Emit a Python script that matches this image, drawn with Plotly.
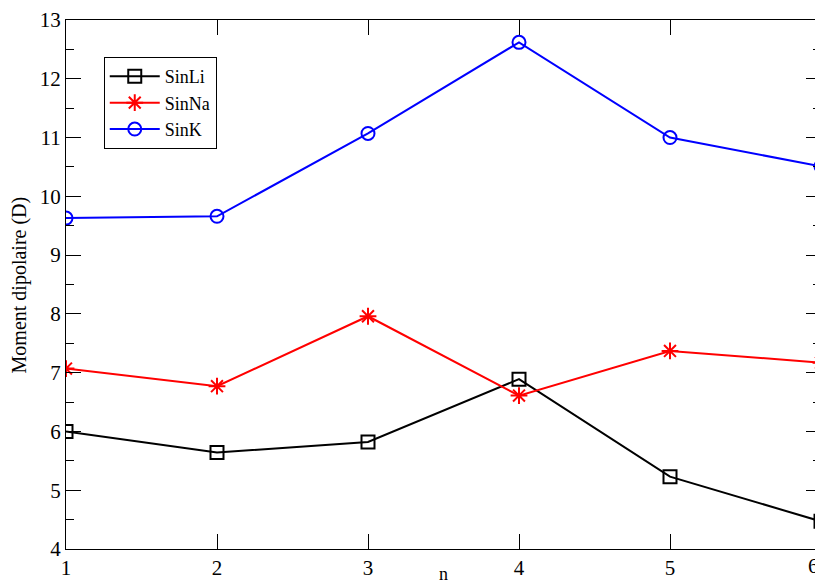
import plotly.graph_objects as go

n_values = [1, 2, 3, 4, 5, 6]
x_tick_labels = ["1", "2", "3", "4", "5", "6"]
sinli = [6.00, 5.64, 5.82, 6.89, 5.23, 4.47]
sinna = [7.07, 6.77, 7.96, 6.61, 7.37, 7.17]
sink = [9.63, 9.66, 11.07, 12.62, 11.00, 10.51]

FONT = "Liberation Serif"

fig = go.Figure()
fig.add_trace(go.Scatter(x=n_values, y=sinli, name="SinLi", mode="lines+markers",
                         line=dict(color="black", width=2),
                         marker=dict(symbol="square-open", size=13, color="black",
                                     line=dict(width=2, color="black"))))
fig.add_trace(go.Scatter(x=n_values, y=sinna, name="SinNa", mode="lines+markers",
                         line=dict(color="red", width=2),
                         marker=dict(symbol="asterisk-open", size=14, color="red",
                                     line=dict(width=2, color="red"))))
fig.add_trace(go.Scatter(x=n_values, y=sink, name="SinK", mode="lines+markers",
                         line=dict(color="blue", width=2),
                         marker=dict(symbol="circle-open", size=13, color="blue",
                                     line=dict(width=2, color="blue"))))

# last tick label drawn as an annotation so it stays inside the picture
shown_ticktext = x_tick_labels[:-1] + [""]

fig.update_layout(
    width=823, height=587,
    margin=dict(l=58, r=10, t=12, b=46, autoexpand=False),
    paper_bgcolor="white", plot_bgcolor="white",
    font=dict(family=FONT, size=21, color="black"),
    showlegend=True,
    legend=dict(x=0.05, y=0.93, xanchor="left", yanchor="top",
                bordercolor="black", borderwidth=1, bgcolor="white",
                font=dict(family=FONT, size=18), tracegroupgap=0,
                itemwidth=50),
)
fig.update_xaxes(range=[1, 6], tickvals=n_values, ticktext=shown_ticktext,
                 ticks="inside", ticklen=15,
                 tickcolor="black", showline=True, linecolor="black", linewidth=1,
                 mirror="ticks", showgrid=False, zeroline=False, automargin=False,
                 tickfont=dict(family=FONT, size=21))
fig.update_yaxes(range=[4, 13], dtick=1, ticks="inside", ticklen=15,
                 tickcolor="black", showline=True, linecolor="black", linewidth=1,
                 mirror="ticks", showgrid=False, zeroline=False, automargin=False,
                 minor=dict(dtick=0.5, ticks="inside", ticklen=8, tickcolor="black", showgrid=False),
                 tickfont=dict(family=FONT, size=21))

fig.add_annotation(text=x_tick_labels[-1], xref="x", yref="paper",
                   x=n_values[-1], y=0, xanchor="right", yanchor="top", yshift=-3,
                   showarrow=False, font=dict(family=FONT, size=21))
fig.add_annotation(text="Moment dipolaire (D)", xref="paper", yref="paper",
                   x=-0.061, y=0.5, xanchor="center", yanchor="middle", textangle=-90,
                   showarrow=False, font=dict(family=FONT, size=20))
fig.add_annotation(text="n", xref="paper", yref="paper",
                   x=0.5, y=-0.070, xanchor="center", yanchor="bottom",
                   showarrow=False, font=dict(family=FONT, size=18))

fig.write_html("out.html")
